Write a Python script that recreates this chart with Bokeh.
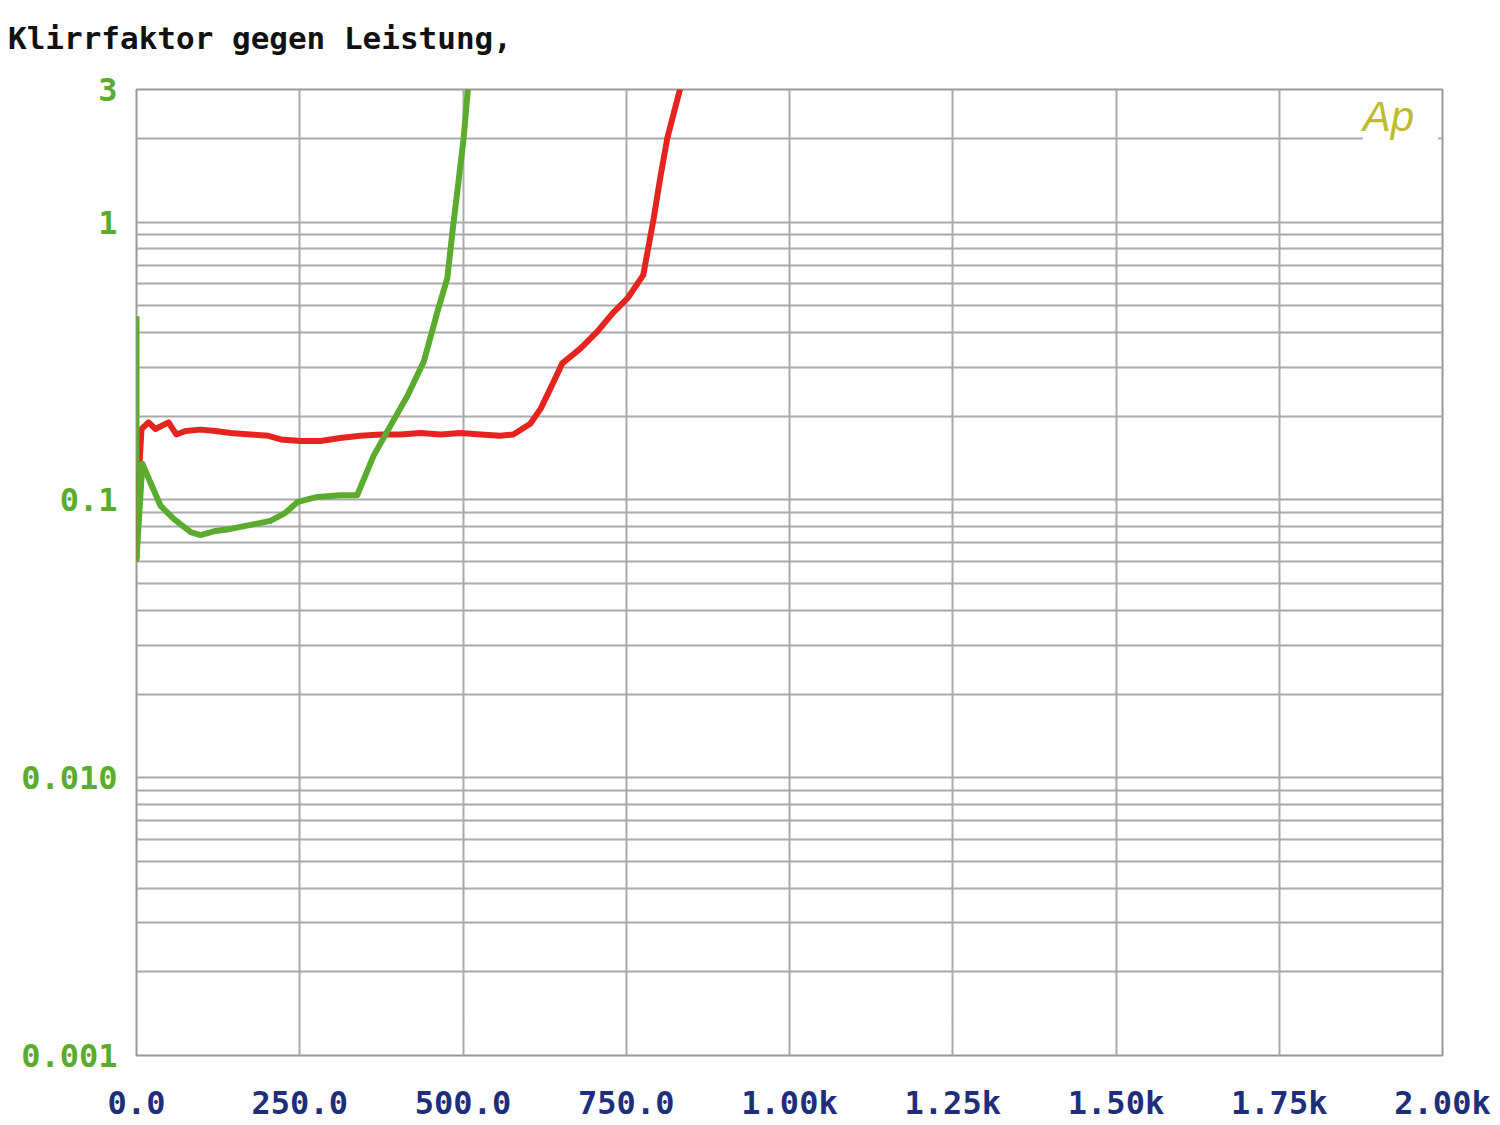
from bokeh.plotting import figure
from bokeh.models import FixedTicker, Range1d, Label, Div
from bokeh.layouts import column
from bokeh.embed import file_html
from bokeh.resources import INLINE

# ---- data ----
title_text = "Klirrfaktor gegen Leistung,"

x_ticks = [0, 250, 500, 750, 1000, 1250, 1500, 1750, 2000]
x_tick_labels = ["0.0", "250.0", "500.0", "750.0", "1.00k", "1.25k", "1.50k", "1.75k", "2.00k"]

y_ticks = [0.001, 0.01, 0.1, 1, 3]
y_tick_labels = ["0.001", "0.010", "0.1", "1", "3"]

green_x = [0, 0, 9, 21, 37, 57, 83, 98, 121, 144, 175, 205, 228, 247, 277, 312, 338,
           363, 389, 415, 440, 461, 476, 484, 492, 501, 508]
green_y = [0.458, 0.0612, 0.135, 0.116, 0.0951, 0.0854, 0.0766, 0.0747, 0.0773, 0.0786,
           0.0813, 0.084, 0.0898, 0.0984, 0.1025, 0.104, 0.104, 0.144, 0.185, 0.237,
           0.315, 0.477, 0.628, 0.929, 1.33, 2.01, 3.10]

red_x = [0, 4.6, 7.7, 18.4, 29, 49, 61, 75, 98, 121, 144, 175, 202, 221, 251, 282, 312,
         343, 374, 404, 435, 466, 496, 527, 557, 577, 603, 619, 634, 652, 680, 706, 729,
         752, 776, 792, 802, 813, 833]
red_y = [0.0612, 0.135, 0.180, 0.190, 0.180, 0.190, 0.172, 0.177, 0.179, 0.177, 0.174,
         0.172, 0.170, 0.165, 0.163, 0.163, 0.167, 0.170, 0.172, 0.172, 0.174, 0.172,
         0.174, 0.172, 0.170, 0.172, 0.188, 0.213, 0.252, 0.310, 0.351, 0.404, 0.469,
         0.532, 0.644, 1.03, 1.44, 2.01, 3.05]

# log grid positions (1..9 per decade)
grid_y = [m * 10 ** e for e in range(-3, 0) for m in range(1, 10)] + [1, 2, 3]

GREEN = "#5aab2e"
RED = "#e52420"
NAVY = "#1f2e7a"
GRID = "#aaaaaa"

header = Div(
    text=title_text, width=1498, height=60, margin=(0, 0, 0, 0),
    styles={"font-family": "'DejaVu Sans Mono', monospace", "font-size": "31px",
            "font-weight": "bold", "color": "#111111", "line-height": "36px",
            "padding-top": "20px", "padding-left": "8px", "white-space": "pre",
            "box-sizing": "border-box", "background": "white"},
)

p = figure(
    width=1498, height=1063,
    frame_width=1306, frame_height=966,
    min_border_left=136, min_border_right=56, min_border_top=29, min_border_bottom=68,
    x_range=Range1d(0, 2000), y_range=Range1d(0.001, 3),
    y_axis_type="log",
    output_backend="svg", toolbar_location=None,
    background_fill_color="white", border_fill_color="white",
)

p.outline_line_color = "#999999"
p.outline_line_width = 2

# axes
p.xaxis.ticker = FixedTicker(ticks=x_ticks)
p.xaxis.major_label_overrides = {t: l for t, l in zip(x_ticks, x_tick_labels)}
p.xaxis.major_label_text_font = "DejaVu Sans Mono"
p.xaxis.major_label_text_font_size = "32px"
p.xaxis.major_label_text_font_style = "bold"
p.xaxis.major_label_text_color = NAVY
p.xaxis.major_label_standoff = 22

p.yaxis.ticker = FixedTicker(ticks=y_ticks)
p.yaxis.major_label_overrides = {t: l for t, l in zip(y_ticks, y_tick_labels)}
p.yaxis.major_label_text_font = "DejaVu Sans Mono"
p.yaxis.major_label_text_font_size = "32px"
p.yaxis.major_label_text_font_style = "bold"
p.yaxis.major_label_text_color = GREEN
p.yaxis.major_label_standoff = 13

for ax in (p.xaxis[0], p.yaxis[0]):
    ax.axis_line_color = None
    ax.major_tick_line_color = None
    ax.minor_tick_line_color = None

# grid
p.xgrid.ticker = FixedTicker(ticks=x_ticks)
p.ygrid.ticker = FixedTicker(ticks=grid_y)
for g in (p.xgrid[0], p.ygrid[0]):
    g.grid_line_color = GRID
    g.grid_line_width = 2

# curves
p.line(red_x, red_y, line_color=RED, line_width=6, line_join="round")
p.line(green_x, green_y, line_color=GREEN, line_width=6, line_join="round")

# Ap logo
ap = Label(x=1878, y=2.3, text="Ap", text_font="Liberation Sans", text_font_size="42px",
           text_font_style="italic", text_color="#bcbc2c", text_align="left",
           text_baseline="middle", background_fill_color="white",
           padding=(0, 24, 0, 10))
p.add_layout(ap)

layout = column(header, p, spacing=0)

open("out.html", "w").write(file_html(layout, INLINE))
